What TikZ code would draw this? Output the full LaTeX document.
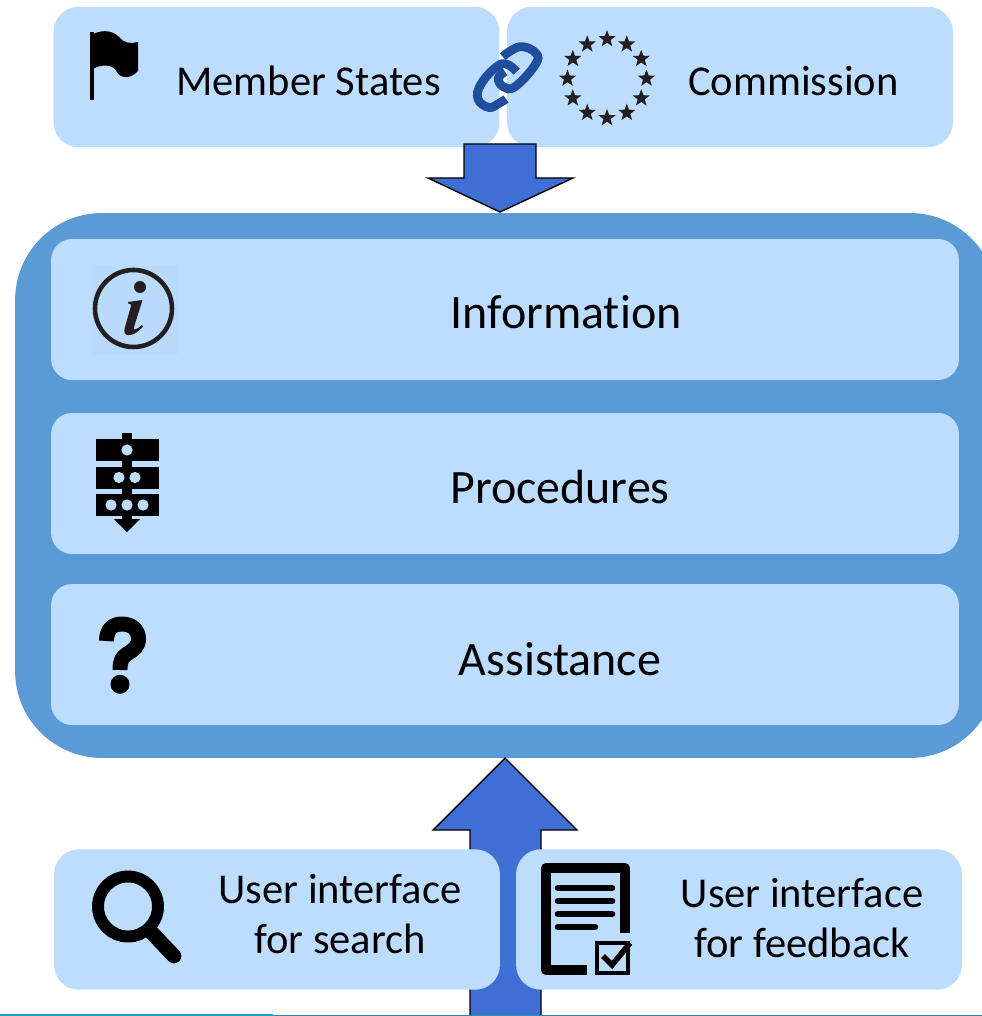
\documentclass[tikz,border=0pt]{standalone}
\usepackage{fontspec}
\setmainfont[Ligatures=NoCommon]{Carlito}
\usetikzlibrary{shapes.geometric,calc}
\definecolor{panelblue}{HTML}{BDDDFF}
\definecolor{frameblue}{HTML}{5B9BD5}
\definecolor{arrowblue}{HTML}{3F6FD4}
\definecolor{linkblue}{HTML}{1F4E9E}
\definecolor{iconsquare}{HTML}{B9DAFA}
\definecolor{iconblack}{HTML}{231F20}
\definecolor{linetealA}{HTML}{1AA3CC}
\definecolor{linetealB}{HTML}{2A8CA8}
\tikzset{
  panel/.style={fill=panelblue, rounded corners=0.5cm, inner sep=0pt, minimum width=8.92cm, minimum height=2.81cm},
  rowpanel/.style={fill=panelblue, rounded corners=0.42cm, inner sep=0pt, minimum width=18.16cm, minimum height=2.82cm},
  label/.style={inner sep=0pt, anchor=base, font=\fontsize{24.2}{28.5}\selectfont},
  rowlabel/.style={label, font=\fontsize{27.3}{32}\selectfont},
  blockarrow/.style={fill=arrowblue, draw=black, line width=0.8pt, line join=miter},
  linkline/.style={draw=linkblue, line width=5pt},
  euStar/.style={star, star points=5, star point ratio=2.4, fill=iconblack, inner sep=0pt, minimum size=0.36cm}
}
\begin{document}
\begin{tikzpicture}[x=0.02cm,y=-0.02cm]
  \useasboundingbox (0,0) rectangle (982,1016);
  \clip (0,0) rectangle (982,1016);
  % outer frame, runs off the right edge
  \node[fill=frameblue, rounded corners=1.74cm, inner sep=0pt, minimum width=19.64cm, minimum height=10.9cm] (frame) at (506,485.5) {};
  % arrow from below goes behind the two panels
  \coordinate (upTip) at (505,758);
  \draw[blockarrow] (upTip) -- (577,830) -- (541,830) -- (541,1018) -- (470,1018) -- (470,830) -- (433,830) -- cycle;
  \node[panel] (memberBox) at (276.5,77) {};
  \node[panel] (commissionBox) at (730,77) {};
  \node[panel] (searchBox) at (277,919.5) {};
  \node[panel] (feedbackBox) at (739,919.5) {};
  \coordinate (downTip) at (500,212);
  \draw[blockarrow] (downTip) -- (573,178) -- (536,178) -- (536,144) -- (464,144) -- (464,178) -- (428,178) -- cycle;
  \foreach \y/\name/\xx/\base/\txt in {309.5/infoBox/566/329/Information, 483.5/procBox/560/503/Procedures, 654.5/helpBox/560/675/Assistance}{
    \node[rowpanel] (\name) at (505,\y) {};
    \node[rowlabel] (\name Text) at (\xx,\base) {\txt};
  }
  \node[label] (memberText) at (308.5,96) {Member States};
  \node[label] (commissionText) at (793.5,96) {Commission};
  \node[label, anchor=center, align=center] (searchText) at (340,914) {User interface\\for search};
  \node[label, anchor=center, align=center] (feedbackText) at (802,918) {User interface\\for feedback};
  % flag
  \fill (89.5,32) rectangle (93.5,100);
  \fill (93,34) .. controls (104,29) and (113,31) .. (119,37) .. controls (123,43) and (131,44) .. (138,42)
    -- (138,71) .. controls (130,80) and (120,78) .. (117,72) .. controls (113,64) and (101,64) .. (93,69) -- cycle;
  % chain link
  \draw[linkline] plot[smooth, tension=0.7] coordinates {(516.7,71.7) (507,64.3) (496.7,66.7) (481,84) (478,99) (489,107.5) (499.5,103) (506,99)};
  \draw[linkline] plot[smooth, tension=0.7] coordinates {(502.7,56.7) (520,46.7) (536,53.3) (535,65) (515,86.7) (503.3,86.7) (498.3,78.3) (505,71.7)};
  % ring of stars
  \coordinate (starCentre) at (607,78.5);
  \foreach \a in {0,30,...,330}{
    \node[euStar] (star\a) at ($(starCentre)+(\a:39.5)$) {};
  }
  % info icon
  \fill[iconsquare] (92,265) rectangle (178,355);
  \draw[iconblack, line width=2.6pt] (133.5,308.5) circle (38.5);
  \fill[iconblack] (140,287) circle (6);
  \fill[iconblack] (128,302) -- (142.5,300) -- (134,327) .. controls (133,331) and (136,330) .. (142,325) -- (143,326.5)
    .. controls (136,334) and (131,336) .. (127,335) .. controls (124,334) and (124,331) .. (125,327) -- (131,306)
    .. controls (131.5,304) and (130,303.5) .. (128,303.5) -- cycle;
  % procedure icon
  \fill (122,433) rectangle (132,520);
  \foreach \y in {439,467,494}{
    \fill (96,\y) rectangle (159,\y+22);
  }
  \fill (114,519) -- (140,519) -- (127,532) -- cycle;
  \foreach \x/\y in {127/450,119/477.5,135/477.5,111/505,127/505,143/505}{
    \fill[panelblue] (\x,\y) circle (5.6);
  }
  % question mark
  \draw[line width=8.5pt] (106.5,641) .. controls (106.5,629) and (113,624) .. (122,624) .. controls (132,624) and (138.5,630) .. (138.5,639)
    .. controls (138.5,647) and (133,650) .. (127,654) .. controls (122,657) and (120,661) .. (120,670);
  \fill (120,684.3) circle (9.5);
  % magnifier
  \draw[line width=6.8pt] (128,906.5) circle (30);
  \draw[line width=8.4pt, line cap=round] (152,933) -- (174,956);
  % form with tick
  \draw[line width=5.6pt, line join=round] (625,933) -- (625,868) -- (546,868) -- (546,970) -- (587,970);
  \foreach \y/\xend in {888/612,901/612,914/612,927/595}{
    \draw[line width=3.8pt, line cap=round] (558,\y) -- (\xend,\y);
  }
  \draw[line width=1.8pt] (597,943) rectangle (628,973);
  \draw[line width=3.2pt] (603,956) -- (612,965) -- (630,943);
  % line along the bottom edge
  \draw[linetealB, line width=0.5pt] (273,1015.5) -- (982,1015.5);
  \draw[linetealA, line width=1.2pt] (0,1015.2) -- (273,1015.2);
\end{tikzpicture}
\end{document}
